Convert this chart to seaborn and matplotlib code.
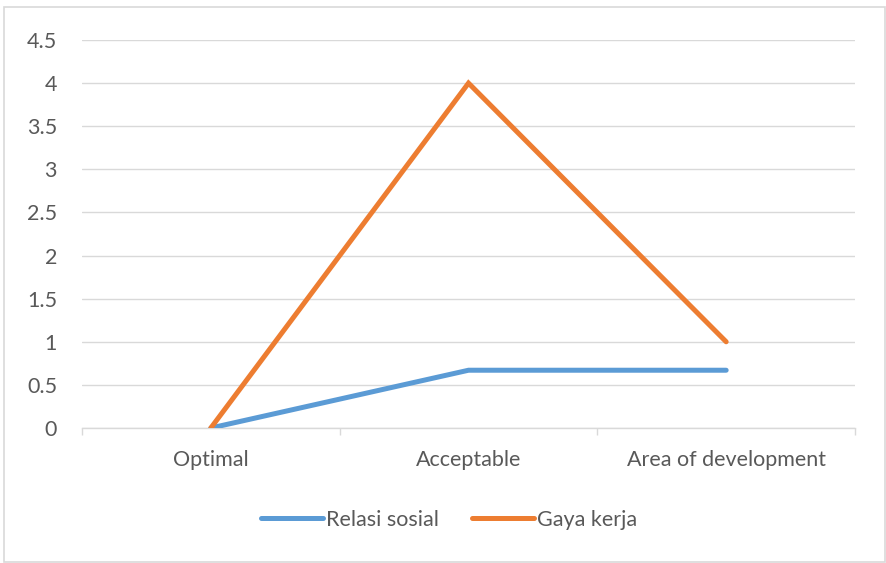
import matplotlib
matplotlib.use("Agg")
import matplotlib.pyplot as plt
from matplotlib.patches import Rectangle
import seaborn as sns
import pandas as pd

categories = ["Optimal", "Acceptable", "Area of development"]
relasi_sosial = [0, 0.67, 0.67]
gaya_kerja = [0, 4, 1]
series_names = ["Relasi sosial", "Gaya kerja"]
y_ticks = [0, 0.5, 1, 1.5, 2, 2.5, 3, 3.5, 4, 4.5]
y_tick_labels = ["0", "0.5", "1", "1.5", "2", "2.5", "3", "3.5", "4", "4.5"]

df = pd.DataFrame({
    "category": categories * 2,
    "pos": list(range(len(categories))) * 2,
    "value": relasi_sosial + gaya_kerja,
    "series": [series_names[0]] * 3 + [series_names[1]] * 3,
})

sns.set_theme(style="white")
plt.rcParams["font.family"] = ["Lato", "DejaVu Sans"]

fig = plt.figure(figsize=(8.86, 5.63), dpi=100)
ax = fig.add_axes([82 / 886, 1 - 428 / 563, (855 - 82) / 886, (428 - 40) / 563])

palette = {series_names[0]: "#5B9BD5", series_names[1]: "#ED7D31"}
sns.lineplot(data=df, x="pos", y="value", hue="series", palette=palette,
             linewidth=3.6, ax=ax, legend=False, zorder=3,
             solid_capstyle="round", solid_joinstyle="miter")

grid_c = "#D9D9D9"
text_c = "#595959"
fs = 15.5
ax.set_xlim(-0.5, len(categories) - 0.5)
ax.set_ylim(0, 4.5)
ax.set_yticks(y_ticks)
ax.set_yticklabels(y_tick_labels)
ax.yaxis.grid(True, color=grid_c, linewidth=1.0)
ax.set_axisbelow(True)
for s in ["top", "right", "left"]:
    ax.spines[s].set_visible(False)
ax.spines["bottom"].set_color(grid_c)
ax.spines["bottom"].set_linewidth(1.0)

# category labels centred, boundary tick marks between categories
ax.set_xticks([-0.5, 0.5, 1.5, 2.5], minor=False)
ax.set_xticklabels([])
ax.set_xticks(range(len(categories)), minor=True)
ax.set_xticklabels(categories, minor=True)
ax.tick_params(axis="x", which="major", length=5, width=1, color=grid_c,
               direction="out", bottom=True)
ax.tick_params(axis="x", which="minor", length=0, pad=16, labelsize=fs,
               labelcolor=text_c)
ax.tick_params(axis="y", length=0, pad=18, labelsize=fs, labelcolor=text_c)
ax.set_xlabel("")
ax.set_ylabel("")

handles = [plt.Line2D([], [], color=palette[n], linewidth=3.6,
                      solid_capstyle="round") for n in series_names]
fig.legend(handles, series_names, loc="center", bbox_to_anchor=(449 / 886, 1 - 520 / 563),
           ncol=2, frameon=False, fontsize=fs, labelcolor=text_c,
           handlelength=2.9, handletextpad=0.15, columnspacing=1.5)

fig.patches.append(Rectangle((4 / 886, 1 - 562 / 563), 881 / 886, 555 / 563,
                             transform=fig.transFigure, fill=False,
                             edgecolor="#D9D9D9", linewidth=1.2))

fig.savefig("out.png", dpi=100, facecolor="white")
